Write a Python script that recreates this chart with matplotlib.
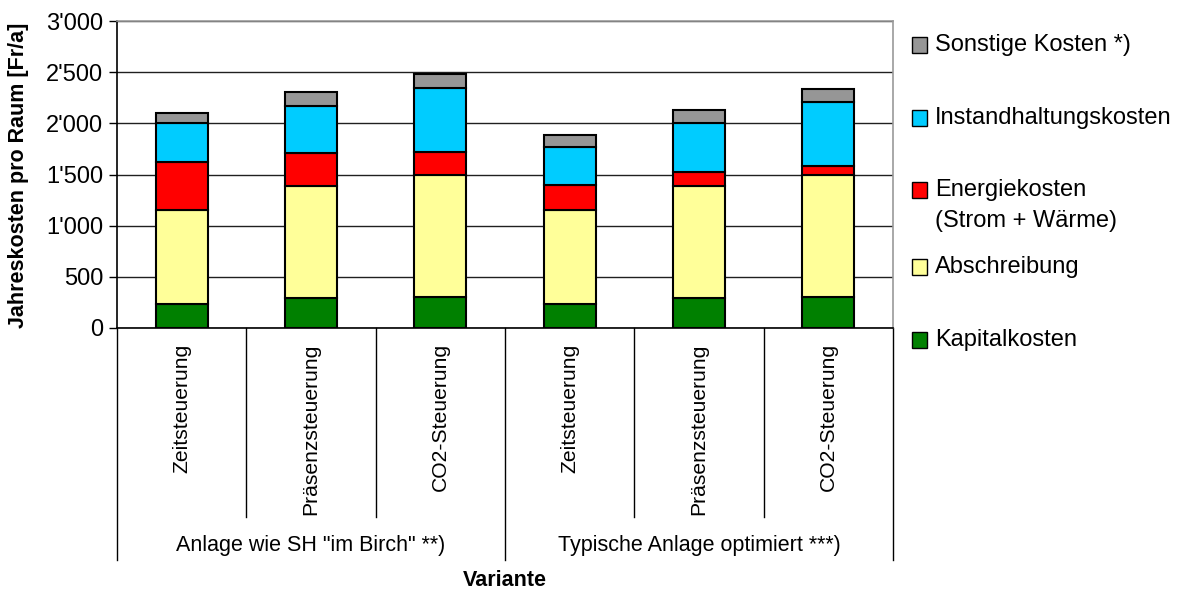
import matplotlib
matplotlib.use("Agg")
import matplotlib.pyplot as plt
from matplotlib.patches import Rectangle
from matplotlib.ticker import FuncFormatter, MultipleLocator
from matplotlib.transforms import blended_transform_factory

plt.rcParams["font.family"] = ["Liberation Sans", "DejaVu Sans"]

# Variants (control strategies) and system groups
categories = ["Zeitsteuerung", "Präsenzsteuerung", "CO2-Steuerung",
              "Zeitsteuerung", "Präsenzsteuerung", "CO2-Steuerung"]
groups = ['Anlage wie SH "im Birch" **)', "Typische Anlage optimiert ***)"]

# Annual cost components per room [Fr/a], stacked bottom to top
kapitalkosten = [238, 290, 303, 238, 290, 303]
abschreibung = [918, 1093, 1194, 918, 1093, 1194]
energiekosten = [468, 326, 225, 244, 144, 82]
instandhaltung = [375, 462, 628, 371, 472, 628]
sonstige = [101, 134, 134, 114, 130, 130]

series = [
    ("Kapitalkosten", kapitalkosten, "#008000"),
    ("Abschreibung", abschreibung, "#FFFF99"),
    ("Energiekosten\n(Strom + Wärme)", energiekosten, "#FF0000"),
    ("Instandhaltungskosten", instandhaltung, "#00CCFF"),
    ("Sonstige Kosten *)", sonstige, "#969696"),
]

fig = plt.figure(figsize=(11.86, 5.93), dpi=100)
ax = fig.add_axes([117 / 1186, 1 - 328 / 593, (893 - 117) / 1186, (328 - 21) / 593])

x = list(range(len(categories)))
bottom = [0] * len(categories)
for name, vals, color in series:
    ax.bar(x, vals, width=0.40, bottom=bottom, color=color,
           edgecolor="black", linewidth=1.5, zorder=3)
    bottom = [b + v for b, v in zip(bottom, vals)]

ax.set_xlim(-0.5, len(categories) - 0.5)
ax.set_ylim(0, 3000)
ax.yaxis.set_major_locator(MultipleLocator(500))
ax.yaxis.set_major_formatter(
    FuncFormatter(lambda v, p: f"{int(v):,}".replace(",", "'")))
ax.tick_params(axis="y", labelsize=17, length=6, width=1, direction="out",
               pad=4, colors="black")
ax.set_xticks([])

ax.grid(axis="y", color="#202020", linewidth=1.0, zorder=0)
for side in ("top", "right"):
    ax.spines[side].set_color("#999999")
    ax.spines[side].set_linewidth(1.2)
ax.spines["left"].set_linewidth(1.2)
ax.spines["bottom"].set_linewidth(1.2)

# Category axis: rotated labels and separator lines below the plot
trans = blended_transform_factory(ax.transData, ax.transAxes)
for xi, lab in zip(x, categories):
    ax.text(xi, -0.05, lab, rotation=90, ha="center", va="top",
            fontsize=15.2, transform=trans)

inner_bottom = -(517 - 328) / 307
outer_bottom = -(560 - 328) / 307
for xb in [0.5, 1.5, 3.5, 4.5]:
    ax.plot([xb, xb], [0, inner_bottom], color="black", lw=1.0,
            transform=trans, clip_on=False)
for xb in [-0.5, 2.5, 5.5]:
    ax.plot([xb, xb], [0, outer_bottom], color="black", lw=1.0,
            transform=trans, clip_on=False)

for gi, g in enumerate(groups):
    ax.text(1 + 3 * gi, -(546 - 328) / 307, g, ha="center", va="center",
            fontsize=15.5, transform=trans)

fig.text(505 / 1186, 1 - 581 / 593, "Variante", ha="center", va="center",
         fontsize=15.5, fontweight="bold")
fig.text(19 / 1186, 1 - 175 / 593, "Jahreskosten pro Raum [Fr/a]",
         rotation=90, ha="center", va="center", fontsize=15.5,
         fontweight="bold")

# Legend, top entry first
legend_y = {"Sonstige Kosten *)": 45, "Instandhaltungskosten": 118,
            "Energiekosten\n(Strom + Wärme)": 190, "Abschreibung": 267,
            "Kapitalkosten": 340}
for name, vals, color in series:
    yc = legend_y[name]
    fig.patches.append(Rectangle((912 / 1186, 1 - (yc + 8) / 593),
                                 15 / 1186, 16 / 593, facecolor=color,
                                 edgecolor="black", linewidth=1.0,
                                 transform=fig.transFigure, figure=fig))
    fig.text(935 / 1186, 1 - (yc - 11) / 593, name, ha="left", va="top",
             fontsize=17, linespacing=1.55)

fig.savefig("out.png", dpi=100)
